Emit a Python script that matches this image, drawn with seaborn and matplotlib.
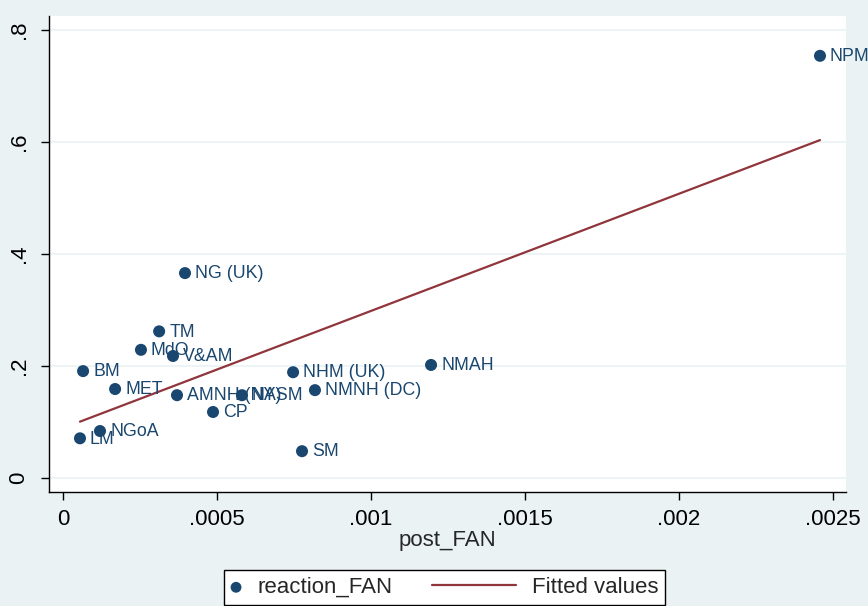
import numpy as np
import pandas as pd
import matplotlib.pyplot as plt
import seaborn as sns
from matplotlib.legend_handler import HandlerPathCollection, HandlerLine2D

museums = ["NPM", "NG (UK)", "TM", "MdO", "V&AM", "BM", "NHM (UK)", "NMAH",
           "MET", "AMNH (NY)", "NASM", "NMNH (DC)", "CP", "NGoA", "LM", "SM"]
post_fan = [0.002458, 0.000396, 0.000312, 0.000253, 0.000357, 0.000065, 0.000747, 0.001195,
            0.000169, 0.000370, 0.000581, 0.000818, 0.000487, 0.000120, 0.000055, 0.000776]
reaction_fan = [0.754, 0.366, 0.262, 0.229, 0.218, 0.191, 0.189, 0.202,
                0.159, 0.148, 0.148, 0.157, 0.118, 0.084, 0.071, 0.048]

navy = "#1a476f"
maroon = "#90353b"
bg = "#eaf2f3"

df = pd.DataFrame({"museum": museums, "post_FAN": post_fan, "reaction_FAN": reaction_fan})


# legend handlers: marker at the left of its box, line reaching back into the gap
class LeftMarker(HandlerPathCollection):
    def get_xdata(self, legend, xdescent, ydescent, width, height, fontsize):
        x = [-xdescent + 3.6]
        return x, x


class LongLine(HandlerLine2D):
    def get_xdata(self, legend, xdescent, ydescent, width, height, fontsize):
        x1 = -xdescent + width - 3.6
        return [x1 - 60.5, x1], [x1 - 30]


sns.set_style("white")
plt.rcParams["font.family"] = ["Liberation Sans", "DejaVu Sans"]

fig = plt.figure(figsize=(8.68, 6.06), dpi=100, facecolor=bg)
ax = fig.add_axes([0.0565, 0.188, 0.918, 0.7855])
ax.set_facecolor("white")

sns.scatterplot(data=df, x="post_FAN", y="reaction_FAN", ax=ax, color=navy, s=75,
                edgecolor="none", label="reaction_FAN", zorder=3)
sns.regplot(data=df, x="post_FAN", y="reaction_FAN", ax=ax, scatter=False, ci=None,
            color=maroon, line_kws={"lw": 1.6}, label="Fitted values")

for name, x, y in zip(museums, post_fan, reaction_fan):
    ax.annotate(name, (x, y), xytext=(7.2, -0.5), textcoords="offset points",
                va="center", ha="left", fontsize=12.8, color=navy, zorder=4)

ax.set_xlim(-0.0000455, 0.002542)
ax.set_ylim(-0.025, 0.825)
ax.set_xticks([0, 0.0005, 0.001, 0.0015, 0.002, 0.0025])
ax.set_xticklabels(["0", ".0005", ".001", ".0015", ".002", ".0025"])
ax.set_yticks([0, 0.2, 0.4, 0.6, 0.8])
ax.set_yticklabels(["0", ".2", ".4", ".6", ".8"], rotation=90, va="center")
ax.tick_params(axis="both", labelsize=16, length=6, width=1, direction="out",
               bottom=True, left=True, colors="black")
ax.tick_params(axis="x", pad=6)
ax.tick_params(axis="y", pad=8)
ax.yaxis.grid(True, color=bg, lw=1.2)
ax.set_axisbelow(True)

for s in ["top", "right"]:
    ax.spines[s].set_visible(False)
for s in ["left", "bottom"]:
    ax.spines[s].set_color("black")
    ax.spines[s].set_linewidth(1)

ax.set_xlabel("post_FAN", fontsize=16, labelpad=0)
ax.set_ylabel("")

handles, labels = ax.get_legend_handles_labels()
if ax.legend_:
    ax.legend_.remove()
fig.legend(handles, labels, loc="lower center", bbox_to_anchor=(0.5125, 0.002), ncol=2,
           frameon=True, fancybox=False, edgecolor="black", facecolor="white", framealpha=1,
           fontsize=16, handlelength=0.65, handletextpad=0.52, columnspacing=5.13,
           borderpad=0.3, borderaxespad=0, markerscale=0.9,
           handler_map={handles[0]: LeftMarker(), handles[1]: LongLine()})

fig.savefig("out.png", dpi=100, facecolor=bg)
